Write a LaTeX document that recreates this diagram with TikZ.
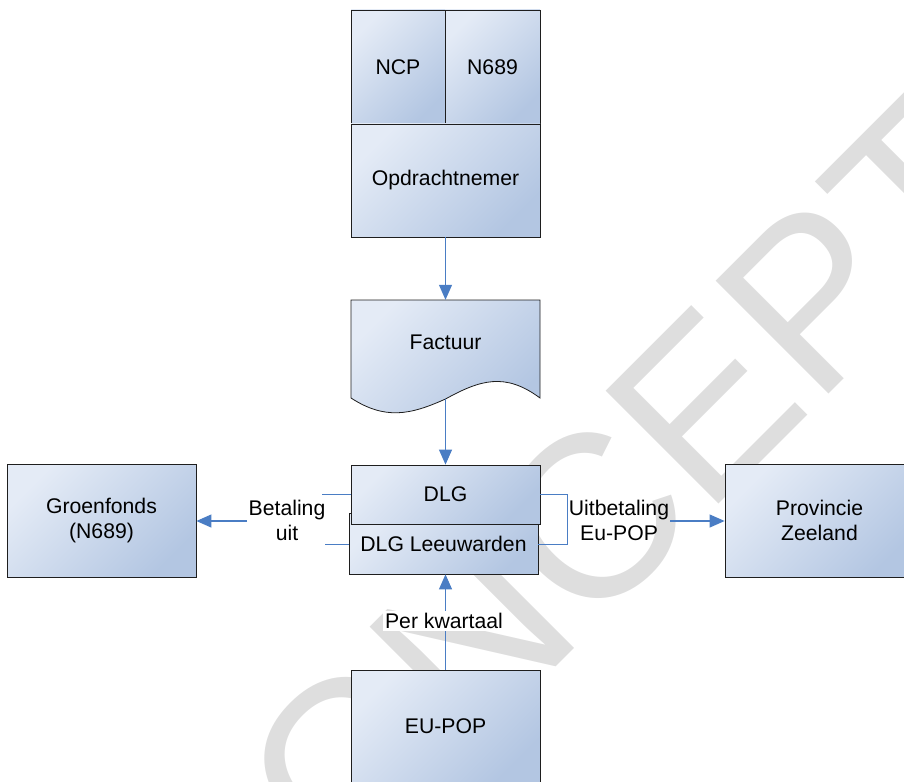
\documentclass[tikz,border=0pt]{standalone}
\usepackage{fontspec}
\setmainfont{Liberation Sans}
\usetikzlibrary{arrows.meta}
\definecolor{boxlight}{HTML}{E4EBF6}
\definecolor{boxdark}{HTML}{B3C6E2}
\definecolor{boxline}{HTML}{1E1E1E}
\definecolor{arrowblue}{HTML}{4A7DC4}
\definecolor{wmgray}{HTML}{DEDEDE}
\newcommand\lblfont{\fontsize{21.2}{25}\selectfont}
\begin{document}
\begin{tikzpicture}[x=1pt,y=-1pt,
  boxshade/.style={draw=boxline, line width=0.8pt, shading=axis, top color=boxlight, bottom color=boxdark, shading angle=45},
  box/.style={boxshade, inner sep=0pt, align=center, font=\lblfont},
  plain/.style={inner sep=1pt, align=center, font=\lblfont},
  conn/.style={draw=arrowblue, line width=1.1pt},
  thin/.style={draw=arrowblue, line width=0.8pt},
  arr/.style={conn, -{Triangle[length=15pt,width=13pt]}}]
\useasboundingbox (0,0) rectangle (904,781);
% watermark
\node[rotate=45, anchor=base, inner sep=0pt, text=wmgray, font=\fontsize{232}{232}\selectfont] (wm) at (624,599) {CONCEPT};
% top block
\node[box, minimum width=94pt, minimum height=114pt] (ncp) at (398,67) {NCP};
\node[box, minimum width=95pt, minimum height=114pt] (n689) at (492.5,67) {N689};
\node[box, minimum width=189pt, minimum height=113pt] (opd) at (445.5,180.5) {Opdrachtnemer};
% Factuur document shape
\shade[boxshade] (351,300) -- (540,300) -- (540,398) .. controls (505,372) and (480,380) .. (445.5,399) .. controls (410,415) and (385,420) .. (351,398) -- cycle;
\node[plain, minimum width=189pt, minimum height=84pt] (factuur) at (445.5,342) {Factuur};
\coordinate (fbot) at (445.5,399);
% DLG
\node[box, minimum width=189pt, minimum height=61pt] (leeu) at (443.5,543.5) {DLG Leeuwarden};
\node[box, minimum width=189pt, minimum height=59pt] (dlg) at (445.5,494.5) {DLG};
% side boxes
\node[box, minimum width=189pt, minimum height=113pt] (groen) at (101.5,520.5) {Groenfonds\\(N689)};
\node[box, minimum width=189pt, minimum height=113pt] (prov) at (819.5,520.5) {Provincie\\Zeeland};
\node[box, minimum width=189pt, minimum height=112pt] (eupop) at (445.5,726) {EU-POP};
% vertical arrows
\draw[arr] (opd.south) -- (factuur.north);
\draw[arr] (fbot) -- (dlg.north);
\draw[arr] (eupop.north) -- (eupop.north |- leeu.south);
\node[plain, fill=white, inner sep=2pt] (perk) at (444,621) {Per kwartaal};
% left connector
\coordinate (bl1) at (322,494);
\coordinate (bl2) at (325,544);
\coordinate (bl3) at (247,521);
\draw[thin] (bl1) -- (dlg.west |- bl1);
\draw[thin] (bl2) -- (leeu.west |- bl2);
\node[plain] (betal) at (287,520) {Betaling\\uit};
\draw[arr] (bl3) -- (groen.east |- bl3);
% right connector
\coordinate (br1) at (567,494);
\coordinate (br2) at (567,544);
\coordinate (br3) at (670,521);
\draw[thin] (dlg.east |- br1) -- (br1) -- (br2) -- (leeu.east |- br2);
\node[plain] (uitbet) at (619,520) {Uitbetaling\\Eu-POP};
\draw[arr] (br3) -- (prov.west |- br3);
\end{tikzpicture}
\end{document}
